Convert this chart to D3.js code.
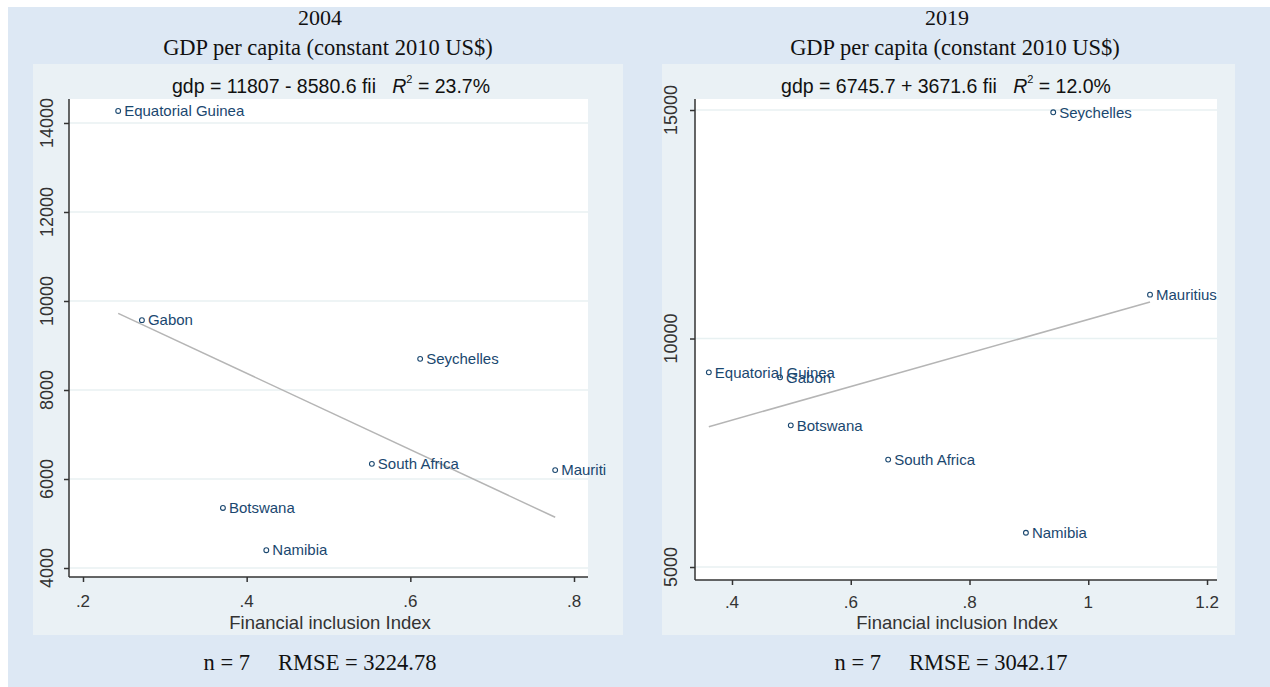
<!DOCTYPE html>
<html>
<head>
<meta charset="utf-8">
<script src="https://cdn.jsdelivr.net/npm/d3@7"></script>
<style>
  html, body { margin: 0; padding: 0; background: #ffffff; }
  svg { display: block; }
</style>
</head>
<body>
<svg id="chart" width="1270" height="687"></svg>
<script>
// ---------------- DATA ----------------
const years = ["2004", "2019"];
const mainTitle = "GDP per capita (constant 2010 US$)";
const xAxisTitle = "Financial inclusion Index";

const countries2004 = ["Equatorial Guinea", "Gabon", "Seychelles", "South Africa", "Mauriti", "Botswana", "Namibia"];
const fii2004 = [0.243, 0.272, 0.612, 0.553, 0.777, 0.371, 0.424];
const gdp2004 = [14270, 9570, 8700, 6340, 6200, 5350, 4400];

const countries2019 = ["Seychelles", "Mauritius", "Equatorial Guinea", "Gabon", "Botswana", "South Africa", "Namibia"];
const fii2019 = [0.941, 1.104, 0.361, 0.481, 0.499, 0.663, 0.895];
const gdp2019 = [14950, 10960, 9260, 9150, 8100, 7350, 5750];

const fit2004 = { intercept: 11807, slope: -8580.6, r2: "23.7%", n: 7, rmse: "3224.78" };
const fit2019 = { intercept: 6745.7, slope: 3671.6, r2: "12.0%", n: 7, rmse: "3042.17" };

const xTicks2004 = [0.2, 0.4, 0.6, 0.8];
const xTickLabels2004 = [".2", ".4", ".6", ".8"];
const yTicks2004 = [4000, 6000, 8000, 10000, 12000, 14000];

const xTicks2019 = [0.4, 0.6, 0.8, 1, 1.2];
const xTickLabels2019 = [".4", ".6", ".8", "1", "1.2"];
const yTicks2019 = [5000, 10000, 15000];

// ---------------- LAYOUT ----------------
const panels = [
  {
    year: years[0], names: countries2004, xs: fii2004, ys: gdp2004, fit: fit2004,
    xTicks: xTicks2004, xLabels: xTickLabels2004, yTicks: yTicks2004,
    xDomain: [0.1829, 0.8171], yDomain: [3798, 14539],
    box: { left: 69, right: 588, top: 99, bottom: 577 },
    inner: { x: 33, y: 64, w: 590, h: 571 },
    cx: 328, subCx: 331, axCx: 330, footCx: 320, yLabX: 53, xLabY: 607
  },
  {
    year: years[1], names: countries2019, xs: fii2019, ys: gdp2019, fit: fit2019,
    xTicks: xTicks2019, xLabels: xTickLabels2019, yTicks: yTicks2019,
    xDomain: [0.3377, 1.2168], yDomain: [4716, 15241],
    box: { left: 695, right: 1217, top: 99, bottom: 580 },
    inner: { x: 662, y: 64, w: 573, h: 571 },
    cx: 955, subCx: 946, axCx: 957, footCx: 951, yLabX: 677, xLabY: 608
  }
];

const navy = "#1a476f";
const axisCol = "#333333";
const sans = "Liberation Sans, Arial, sans-serif";
const serif = "Liberation Serif, Times New Roman, serif";
const svg = d3.select("#chart");

// outer background
svg.append("rect").attr("x", 8).attr("y", 7).attr("width", 1262).attr("height", 680).attr("fill", "#dde8f4");

panels.forEach(p => {
  const g = svg.append("g");
  const b = p.box;
  const x = d3.scaleLinear().domain(p.xDomain).range([b.left, b.right]);
  const y = d3.scaleLinear().domain(p.yDomain).range([b.bottom, b.top]);

  // inner region
  g.append("rect").attr("x", p.inner.x).attr("y", p.inner.y).attr("width", p.inner.w).attr("height", p.inner.h)
    .attr("fill", "#eaf1f5");
  // plot region
  g.append("rect").attr("x", b.left).attr("y", b.top).attr("width", b.right - b.left).attr("height", b.bottom - b.top)
    .attr("fill", "#ffffff");

  // titles
  g.append("text").attr("x", p.cx - 8).attr("y", 25).attr("text-anchor", "middle")
    .attr("font-family", serif).attr("font-size", 22).attr("fill", "#111")
    .text(p.year);
  g.append("text").attr("x", p.cx).attr("y", 55).attr("text-anchor", "middle")
    .attr("font-family", serif).attr("font-size", 22.5).attr("fill", "#111")
    .text(mainTitle);

  // subtitle equation
  const sign = p.fit.slope < 0 ? "-" : "+";
  const sub = g.append("text").attr("x", p.subCx).attr("y", 93).attr("text-anchor", "middle")
    .attr("font-family", sans).attr("font-size", 19.5).attr("fill", "#111");
  sub.append("tspan").text(`gdp = ${p.fit.intercept} ${sign} ${Math.abs(p.fit.slope)} fii\u00a0\u00a0\u00a0`);
  sub.append("tspan").attr("font-style", "italic").text("R");
  sub.append("tspan").attr("font-size", 11).attr("dy", -10).text("2");
  sub.append("tspan").attr("dy", 10).text(` = ${p.fit.r2}`);

  // gridlines
  g.selectAll(".grid").data(p.yTicks).enter().append("line")
    .attr("x1", b.left).attr("x2", b.right)
    .attr("y1", d => y(d)).attr("y2", d => y(d))
    .attr("stroke", "#e8f1f2").attr("stroke-width", 1.5);

  // axes
  const yAxis = d3.axisLeft(y).tickValues(p.yTicks).tickSize(5).tickFormat("");
  const xAxis = d3.axisBottom(x).tickValues(p.xTicks).tickSize(5).tickFormat("");
  const ya = g.append("g").attr("transform", `translate(${b.left},0)`).call(yAxis);
  const xa = g.append("g").attr("transform", `translate(0,${b.bottom})`).call(xAxis);
  [ya, xa].forEach(a => {
    a.select(".domain").remove();
    a.selectAll(".tick line").attr("stroke", axisCol).attr("stroke-width", 1.5);
  });
  g.append("line").attr("x1", b.left).attr("x2", b.left).attr("y1", b.top).attr("y2", b.bottom)
    .attr("stroke", axisCol).attr("stroke-width", 1.5);
  g.append("line").attr("x1", b.left).attr("x2", b.right).attr("y1", b.bottom).attr("y2", b.bottom)
    .attr("stroke", axisCol).attr("stroke-width", 1.5);

  // y tick labels (rotated)
  g.selectAll(".ylab").data(p.yTicks).enter().append("text")
    .attr("transform", d => `translate(${p.yLabX},${y(d)}) rotate(-90)`)
    .attr("text-anchor", "middle")
    .attr("font-family", sans).attr("font-size", 18).attr("fill", "#333")
    .text(d => d);
  // x tick labels
  g.selectAll(".xlab").data(p.xTicks).enter().append("text")
    .attr("x", d => x(d)).attr("y", p.xLabY).attr("text-anchor", "middle")
    .attr("font-family", sans).attr("font-size", 17).attr("fill", "#333")
    .text((d, i) => p.xLabels[i]);
  // x axis title
  g.append("text").attr("x", p.axCx).attr("y", 629).attr("text-anchor", "middle")
    .attr("font-family", sans).attr("font-size", 18.5).attr("fill", "#333")
    .text(xAxisTitle);

  // regression line
  const xmin = d3.min(p.xs), xmax = d3.max(p.xs);
  const fitPts = [xmin, xmax].map(v => [v, p.fit.intercept + p.fit.slope * v]);
  g.append("path").datum(fitPts)
    .attr("d", d3.line().x(d => x(d[0])).y(d => y(d[1])))
    .attr("stroke", "#b5b5b5").attr("stroke-width", 1.5).attr("fill", "none");

  // points
  const pts = p.names.map((n, i) => ({ n, fx: p.xs[i], gy: p.ys[i] }));
  g.selectAll(".pt").data(pts).enter().append("circle")
    .attr("cx", d => x(d.fx)).attr("cy", d => y(d.gy)).attr("r", 2.4)
    .attr("fill", "none").attr("stroke", navy).attr("stroke-width", 1.1);
  g.selectAll(".pl").data(pts).enter().append("text")
    .attr("x", d => x(d.fx) + 6).attr("y", d => y(d.gy)).attr("dy", "0.35em")
    .attr("font-family", sans).attr("font-size", 15).attr("fill", navy)
    .text(d => d.n);

  // footer
  g.append("text").attr("x", p.footCx).attr("y", 670).attr("text-anchor", "middle")
    .attr("font-family", serif).attr("font-size", 22.5).attr("fill", "#111")
    .attr("xml:space", "preserve")
    .text(`n = ${p.fit.n}     RMSE = ${p.fit.rmse}`);
});
</script>
</body>
</html>
